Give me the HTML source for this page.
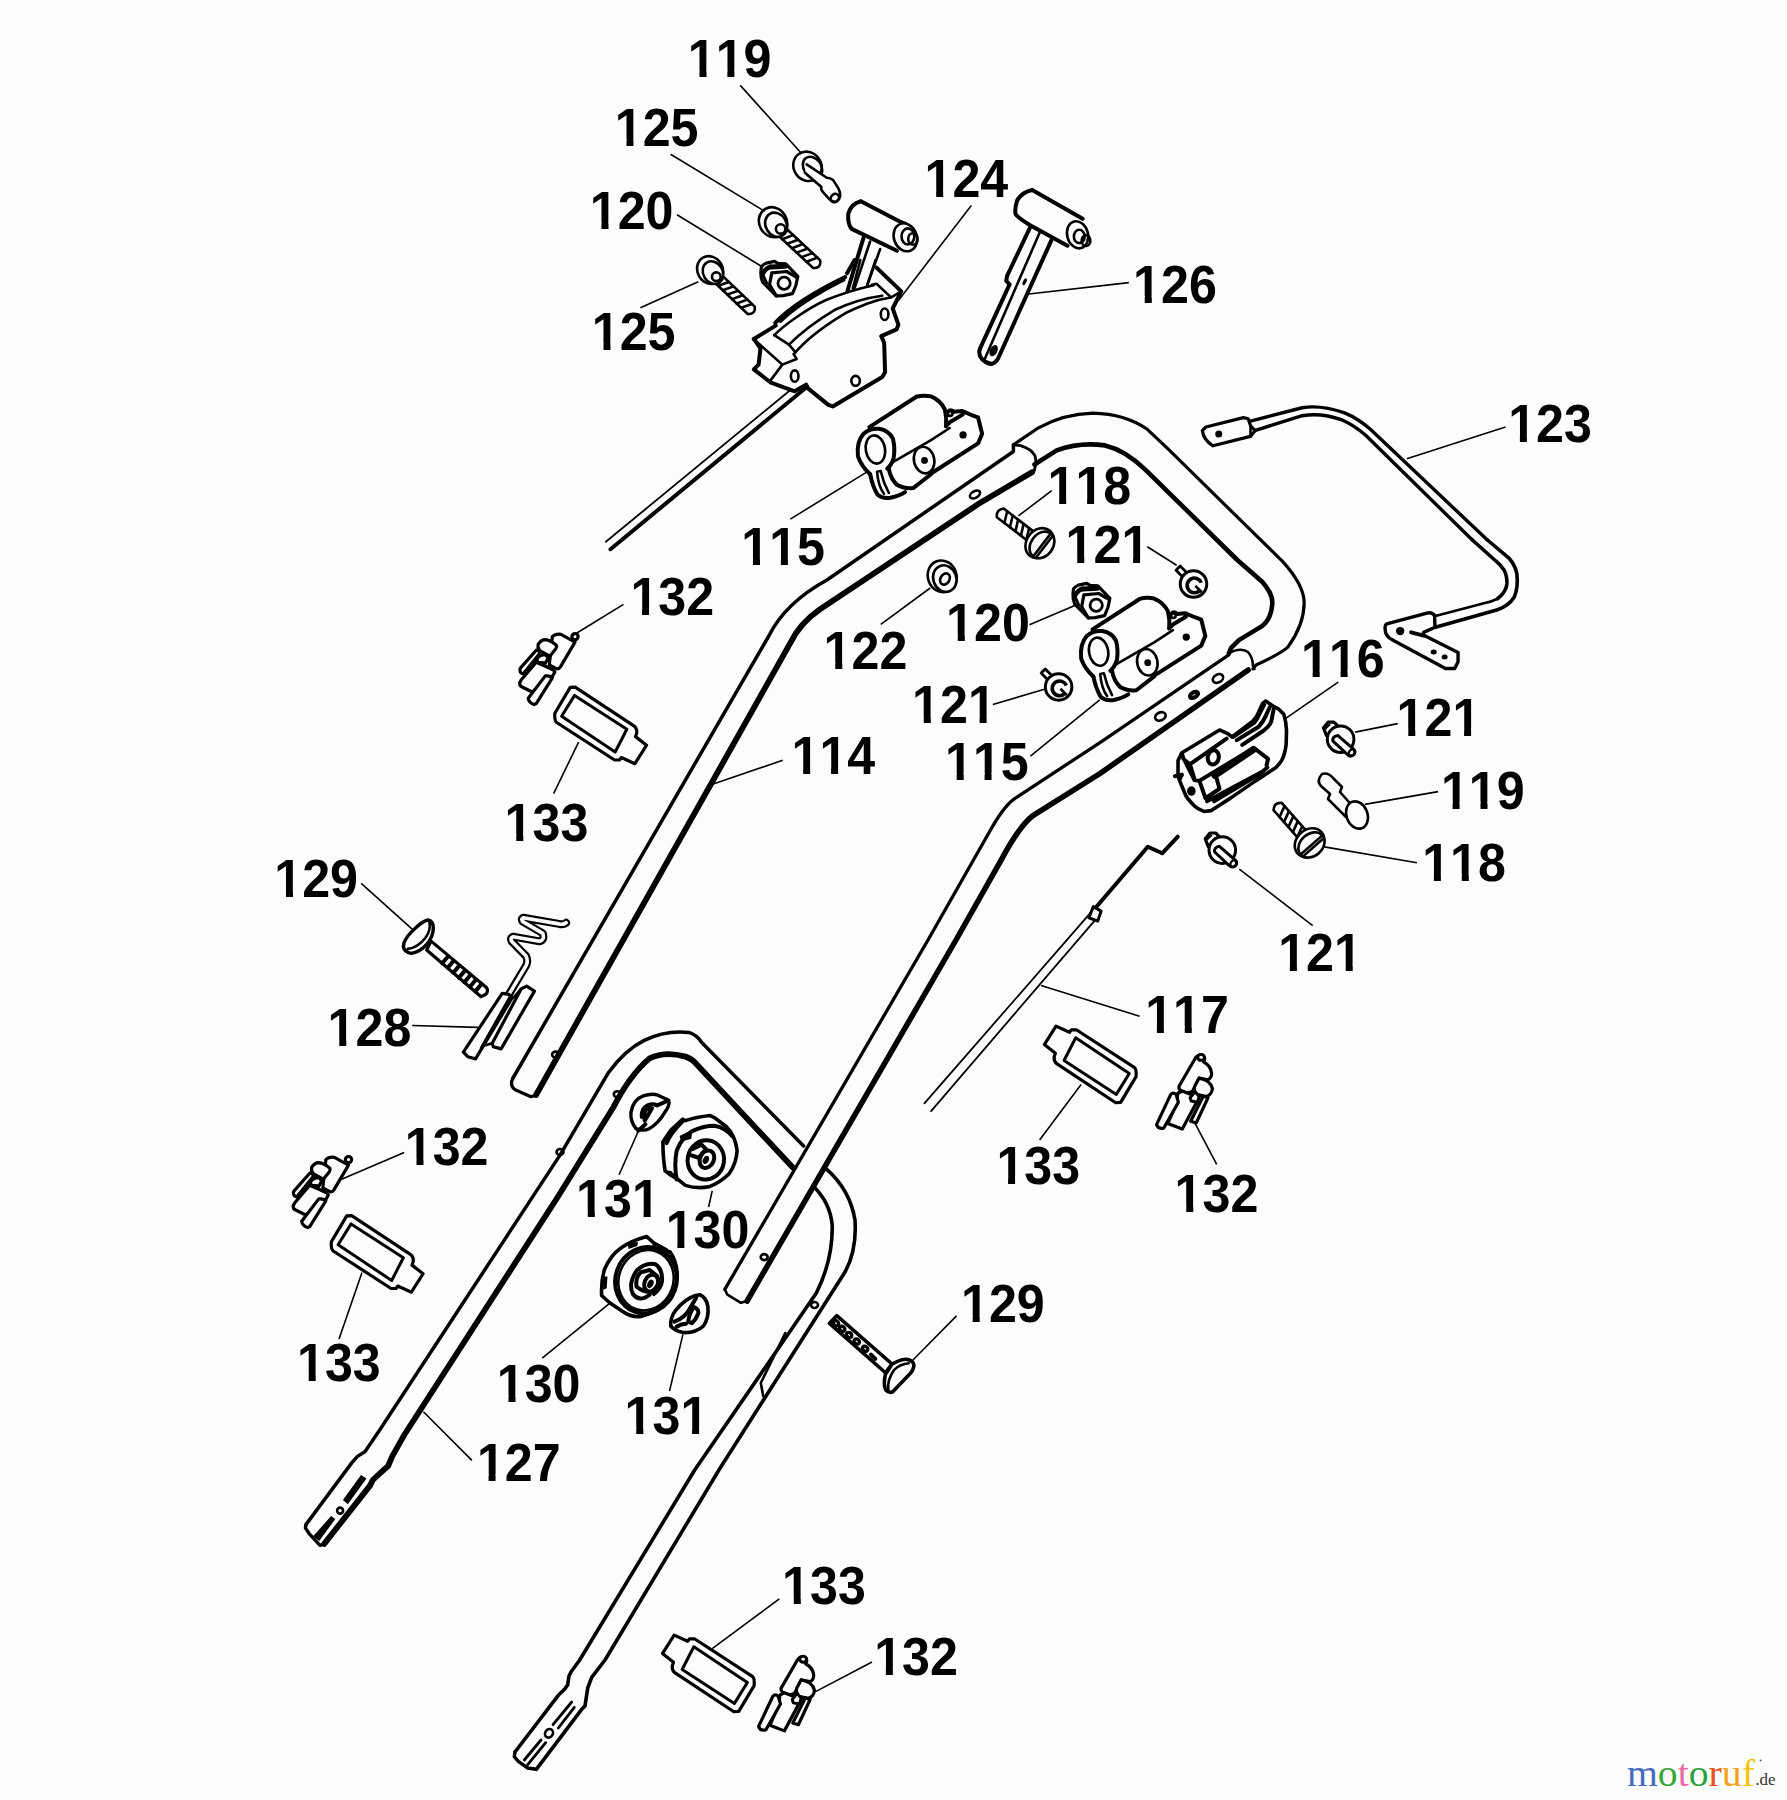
<!DOCTYPE html>
<html><head><meta charset="utf-8"><title>Parts diagram</title>
<style>
html,body{margin:0;padding:0;background:#fcfefc;}
svg{display:block;}
.lbl text{font-family:"Liberation Sans",sans-serif;font-weight:bold;font-size:53px;fill:#000;font-kerning:none;font-feature-settings:"kern" 0;}
.ld line{stroke:#000;stroke-width:1.6;}
path,ellipse,circle,polygon,polyline,line{vector-effect:non-scaling-stroke;}
.o{fill:none;stroke:#000;stroke-width:2.6;stroke-linejoin:round;stroke-linecap:round;}
.t{fill:none;stroke:#000;stroke-width:4;stroke-linejoin:round;stroke-linecap:round;}
.n{fill:none;stroke:#000;stroke-width:1.8;stroke-linejoin:round;stroke-linecap:round;}
.w{fill:#fcfefc;stroke:#000;stroke-width:2.6;stroke-linejoin:round;stroke-linecap:round;}
.f{fill:#000;stroke:none;}
.logo{font-family:"Liberation Serif",serif;}
</style></head>
<body>
<svg width="1787" height="1800" viewBox="0 0 1787 1800">
<rect width="1787" height="1800" fill="#fcfefc"/>
<g class="parts">
<path class="o" style="stroke-width:3.5" d="M513 1078 L768.5 636.5 Q785 603 826.9 580 L1013.4 451.5 L1013.4 444.8"/>
<path class="o" style="stroke-width:3.2" d="M513 1078 Q509 1086 515.6 1090 L531.1 1096.7 L536 1095"/>
<path class="t" style="stroke-width:5.8" d="M536 1095 L790.5 642.7 Q800 623 820.2 609.1 L978.2 504.1 L1032 472.2"/>
<path class="o" style="stroke-width:2.8" d="M1013.4 444.8 L1020.6 445.7 Q1031 449 1034.9 455.5 Q1037 462 1034 471.6"/>
<path class="o" style="stroke-width:3.2" d="M1013.4 444.8 L1038.5 427.8 Q1064 414 1093 413.2 Q1125 414 1147.3 429.3 L1167.5 448.4 L1282.3 561.2 Q1304 585 1304.2 602.8 Q1304 625 1287.9 647.1 Q1280 654 1256 665 L1252.9 668.9"/>
<path class="t" style="stroke-width:4.6" d="M1034.5 464.5 L1056.7 450.4 Q1079 442 1105 445.4 Q1125 450 1145.3 469.6 L1237.3 560 L1262.2 581.8 Q1273 594 1272.3 603.6 Q1271 622 1258.3 628.4 L1238.9 640.1 L1231.1 647.9 L1228.8 653.3"/>
<path class="o" d="M1228.8 653.3 Q1240 647 1248 652 Q1253 658 1253 666 L1254.4 669"/>
<path class="o" style="stroke-width:3.3" d="M1228.8 654.9 L1100 742.6 L1014.3 798.8 Q1003 807 989.5 831.8 L928 940 L724.8 1289.4"/>
<path class="t" style="stroke-width:5.5" d="M1248.2 670 L1100 773.5 L1032.1 816.1 Q1018 828 1000.7 860.9 L956 940 L747.1 1301"/>
<path class="o" d="M724.8 1289.4 L727.4 1294.7 L740.9 1302.8 L747.1 1301.0"/>
<path class="o" style="stroke-width:3.5" d="M306.1 1524.4 L351.9 1462.6 L357.5 1456.4 L365.1 1451.5 L379.7 1430 L560 1155.1 L608.4 1072.7 Q625 1050 644.2 1040.4 Q665 1030 688.9 1032.4 Q697 1035 701.5 1042.2 L803.6 1146.1"/>
<path class="t" style="stroke-width:5.8" d="M324.2 1543.9 L370 1485.6 L372.8 1480 L383.2 1470.3 L388.1 1466.1 L392.2 1456.4 L404.7 1434.2 L557.1 1198 L613.7 1106.7 Q630 1075 649.5 1058.4 Q665 1051 685.4 1056.6 Q692 1059 696.1 1063.7 L792.8 1167.6"/>
<path class="o" style="stroke-width:3.4" d="M306.1 1524.4 L305.4 1527.9 L309.6 1534.2 L320 1545.3 L324.2 1543.9"/>
<path class="o" style="stroke-width:3.6" d="M826.8 1169.4 Q850 1190 855 1220 Q857 1250 845 1272 L718.9 1470 L605 1660 L591.7 1677.3 L587.7 1688 L585 1706 L581.7 1709.3 L536.3 1769.3"/>
<path class="o" style="stroke-width:3.6" d="M814.3 1187.3 Q830 1203 832.2 1224.9 Q833 1260 816.2 1293.3 L694.7 1470 L579.7 1660 L571 1672 L569 1676 L567.7 1684.7 L565 1688.7 L558.3 1695.3 L515 1752"/>
<path class="o" style="stroke-width:3.4" d="M515 1752 L514.3 1756.7 L518.3 1761.3 L527.7 1768 L536.3 1769.3"/>
<path class="n" d="M605.9 541.7 L790.4 390.0"/>
<path class="t" d="M610.5 549.2 L807.1 386.7"/>
<path class="n" d="M924.4 1103.3 L1091.1 912.2"/>
<path class="n" d="M931.1 1111.1 L1100.0 914.4"/>
<path class="t" d="M1095.6 907.8 L1147.8 846.7 L1162.2 853.3 L1177.8 836.7"/>
<g transform="translate(750 260) scale(0.095132)"><path class="t" d="M40 830 L270 690 L265 660 C400 520 650 350 1000 180"/><path class="o" d="M320 650 C450 520 650 380 990 210"/><path class="t" d="M1330 80 L1590 330 L1500 510 L1560 680 L1540 730 L1380 800 L1410 870 L1420 1180 L1390 1230 L870 1540 L820 1520 L610 1350 L590 1310 L470 1380 L220 1290 L40 1150 L90 1100 L110 930 L40 830"/><path class="o" d="M255 790 C350 690 600 510 800 420 C900 380 1050 320 1300 265"/><path class="o" d="M460 990 C600 820 800 680 1000 560 C1150 490 1300 420 1480 395 L1590 330"/><path class="o" d="M410 890 C540 760 700 640 900 520 C1050 450 1200 400 1390 375"/><path class="o" d="M70 860 L340 1100 L220 1260 M340 1100 L490 1040 L460 990 M255 790 L410 890 L470 960"/><path class="o" d="M1280 260 L1330 250 L1480 390"/><path class="t" d="M1020 140 L1100 0"/><path class="o" d="M1080 300 L1160 0"/><path class="o" d="M1230 270 L1320 0"/><ellipse class="o" cx="1415" cy="570" rx="40" ry="60"/><ellipse class="o" cx="470" cy="1220" rx="40" ry="60"/><ellipse class="o" cx="1110" cy="1270" rx="45" ry="52"/></g>
<g transform="translate(740 150) scale(0.167879)"><path class="t" d="M735 525 L640 840"/><path class="o" d="M775 545 L680 830 M835 590 L760 800"/><path class="t" d="M720 305 L960 430 L985 440 M720 305 Q660 320 645 380 Q640 440 665 470 L935 600"/><ellipse class="w" cx="985" cy="520" rx="68" ry="85" transform="rotate(-20 985 520)"/><ellipse class="o" cx="1000" cy="515" rx="38" ry="48"/><ellipse class="o" cx="1030" cy="530" rx="28" ry="34"/></g>
<g transform="translate(950 150) scale(0.167879)"><path class="t" d="M490 238 L790 410 M490 238 Q430 250 400 300 Q385 350 390 380 Q400 400 480 450 L700 570"/><ellipse class="w" cx="760" cy="505" rx="62" ry="82" transform="rotate(-15 760 505)"/><ellipse class="o" cx="770" cy="515" rx="32" ry="40"/><ellipse class="o" cx="810" cy="540" rx="26" ry="32"/><path class="t" d="M480 455 L340 750 L335 780 L355 800 L180 1180 Q165 1215 190 1245 Q215 1270 245 1275 Q270 1270 285 1245 L605 535"/><path class="o" d="M535 490 L205 1250"/><ellipse class="f" cx="260" cy="1195" rx="22" ry="36" transform="rotate(25 260 1195)"/><ellipse class="f" cx="445" cy="785" rx="10" ry="22" transform="rotate(25 445 785)"/></g>
<g transform="translate(580 30) scale(0.167879)"><ellipse class="w" cx="1355" cy="812" rx="82" ry="90" transform="rotate(-35 1355 812)"/><ellipse class="o" cx="1385" cy="818" rx="52" ry="68" transform="rotate(-35 1385 818)"/><path class="w" d="M1350 800 L1470 880 Q1500 882 1512 900 L1540 945 Q1562 990 1535 1018 Q1508 1036 1488 1010 L1450 968 Q1432 950 1438 935 L1340 850"/><ellipse class="o" cx="1518" cy="1000" rx="26" ry="22" transform="rotate(-40 1518 1000)"/></g>
<g transform="translate(580 30) scale(0.167879)"><path class="w" d="M1159 1203 L1389 1418 Q1437 1420 1431 1372 L1201 1157"/><path class="o" d="M1176 1219 L1241 1195 M1205 1246 L1270 1222 M1234 1273 L1299 1249 M1263 1300 L1327 1275 M1291 1326 L1356 1302 M1320 1353 L1385 1329 M1349 1380 L1414 1356 "/><ellipse class="w" cx="1150" cy="1145" rx="82" ry="92" transform="rotate(-30 1150 1145)"/><ellipse class="w" cx="1168" cy="1160" rx="62" ry="75" transform="rotate(-30 1168 1160)"/><circle class="o" cx="1195" cy="1185" r="28"/></g>
<g transform="translate(580 30) scale(0.167879)"><path class="w" d="M779 1482 L999 1692 Q1046 1695 1041 1648 L821 1438"/><path class="o" d="M796 1498 L859 1475 M823 1524 L887 1501 M851 1550 L914 1527 M878 1576 L942 1554 M906 1603 L969 1580 M933 1629 L997 1606 M961 1655 L1024 1632 "/><ellipse class="w" cx="775" cy="1430" rx="75" ry="85" transform="rotate(-30 775 1430)"/><ellipse class="w" cx="792" cy="1445" rx="58" ry="70" transform="rotate(-30 792 1445)"/><circle class="o" cx="812" cy="1470" r="26"/></g>
<g transform="translate(845 385) scale(0.081142)"><path class="t" d="M300 520 L880 145 Q960 120 1060 140 Q1180 190 1230 300 Q1255 400 1245 510"/><path class="o" d="M590 950 L1060 680 L1290 530"/><path class="t" d="M1245 505 L1290 460 L1450 365 M1270 330 Q1300 290 1340 330 L1440 320 L1560 370 L1640 400 L1690 600 L1640 720 L1060 1090"/><circle class="o" cx="1295" cy="350" r="30"/><path class="t" d="M540 1030 Q560 1150 640 1230 Q720 1280 840 1270 L1060 1100"/><ellipse class="w" cx="975" cy="925" rx="125" ry="165" transform="rotate(-12 975 925)"/><circle class="f" cx="980" cy="930" r="42"/><circle class="f" cx="1455" cy="615" r="45"/><path class="t" d="M310 1100 Q200 1000 160 880 Q140 700 230 600 Q310 530 420 540 Q540 560 590 660 Q620 780 600 900 Q570 990 520 1030"/><path class="t" d="M310 1100 Q340 1250 400 1350 Q460 1405 560 1390 Q680 1360 740 1320"/><ellipse class="o" cx="375" cy="795" rx="118" ry="175" transform="rotate(-10 375 795)"/><path class="o" d="M395 1070 L440 1060 Q470 1200 540 1330 M395 1070 Q410 1250 480 1340"/></g>
<g transform="translate(1068.2 587.2) scale(0.081142)"><path class="t" d="M300 520 L880 145 Q960 120 1060 140 Q1180 190 1230 300 Q1255 400 1245 510"/><path class="o" d="M590 950 L1060 680 L1290 530"/><path class="t" d="M1245 505 L1290 460 L1450 365 M1270 330 Q1300 290 1340 330 L1440 320 L1560 370 L1640 400 L1690 600 L1640 720 L1060 1090"/><circle class="o" cx="1295" cy="350" r="30"/><path class="t" d="M540 1030 Q560 1150 640 1230 Q720 1280 840 1270 L1060 1100"/><ellipse class="w" cx="975" cy="925" rx="125" ry="165" transform="rotate(-12 975 925)"/><circle class="f" cx="980" cy="930" r="42"/><circle class="f" cx="1455" cy="615" r="45"/><path class="t" d="M310 1100 Q200 1000 160 880 Q140 700 230 600 Q310 530 420 540 Q540 560 590 660 Q620 780 600 900 Q570 990 520 1030"/><path class="t" d="M310 1100 Q340 1250 400 1350 Q460 1405 560 1390 Q680 1360 740 1320"/><ellipse class="o" cx="375" cy="795" rx="118" ry="175" transform="rotate(-10 375 795)"/><path class="o" d="M395 1070 L440 1060 Q470 1200 540 1330 M395 1070 Q410 1250 480 1340"/></g>
<g transform="translate(1193.5 584.0) scale(0.92)"><path class="w" d="M-19 -15 L-14.5 -19.5 L-6 -11 L-10.5 -6.5 Z" style="stroke-width:2.8"/><circle class="w" cx="0" cy="0" r="14.4" style="stroke-width:3"/><path d="M7 7 A8 8 0 1 1 8.5 -1.5" style="fill:none;stroke:#000;stroke-width:3.6"/><path d="M2 2 L9 9" style="fill:none;stroke:#000;stroke-width:2.6"/></g>
<g transform="translate(1058.6 686.9) scale(0.92)"><path class="w" d="M-19 -15 L-14.5 -19.5 L-6 -11 L-10.5 -6.5 Z" style="stroke-width:2.8"/><circle class="w" cx="0" cy="0" r="14.4" style="stroke-width:3"/><path d="M7 7 A8 8 0 1 1 8.5 -1.5" style="fill:none;stroke:#000;stroke-width:3.6"/><path d="M2 2 L9 9" style="fill:none;stroke:#000;stroke-width:2.6"/></g>
<g transform="translate(1340.6 739.2) scale(0.95)"><path class="w" d="M-18 -12 L-13 -18 L-7 -18 L-3.5 -14.5 L-3 -11.5 L-10.4 -3.7 L-14.8 -3.7 Z" style="stroke-width:3.2"/><path d="M-16 -11 L-11 -16 M-12 -8 L-7 -13" style="stroke:#000;stroke-width:2;fill:none"/><circle class="w" cx="0" cy="0" r="14" style="stroke-width:3"/><path class="w" d="M-3 -4 L13 10 Q17 14 13 17 Q10 19 7 16 L-8 2 Q-9 -3 -3 -4 Z" style="stroke-width:3"/><ellipse class="o" cx="12" cy="14" rx="3" ry="4" transform="rotate(40 12 14)" style="stroke-width:2.2"/></g>
<g transform="translate(1222.3 850.1) scale(0.95)"><path class="w" d="M-18 -12 L-13 -18 L-7 -18 L-3.5 -14.5 L-3 -11.5 L-10.4 -3.7 L-14.8 -3.7 Z" style="stroke-width:3.2"/><path d="M-16 -11 L-11 -16 M-12 -8 L-7 -13" style="stroke:#000;stroke-width:2;fill:none"/><circle class="w" cx="0" cy="0" r="14" style="stroke-width:3"/><path class="w" d="M-3 -4 L13 10 Q17 14 13 17 Q10 19 7 16 L-8 2 Q-9 -3 -3 -4 Z" style="stroke-width:3"/><ellipse class="o" cx="12" cy="14" rx="3" ry="4" transform="rotate(40 12 14)" style="stroke-width:2.2"/></g>
<path class="w" d="M1036.6 533.9 L1003.7 508.5 Q995.9 509.5 996.9 517.3 L1029.9 542.6"/><path class="o" d="M1029.1 528.1 L1026.4 539.9 M1023.6 523.9 L1020.9 535.7 M1018.1 519.7 L1015.4 531.4 M1012.7 515.5 L1009.9 527.2 M1007.2 511.2 L1004.4 523.0 "/><g transform="translate(1039.6 543.1) rotate(37.5)"><ellipse class="w" cx="0" cy="0" rx="13" ry="16"/><ellipse class="w" cx="3" cy="0" rx="11" ry="14.5"/><path class="o" d="M3 -13 L3 13 M6 -12 L6 12"/></g>
<path class="w" d="M1308.3 833.1 L1281.7 802.9 Q1274.0 802.4 1273.5 810.1 L1300.1 840.3"/><path class="o" d="M1302.2 826.2 L1297.3 837.2 M1297.8 821.1 L1292.9 832.1 M1293.4 816.1 L1288.4 827.1 M1288.9 811.1 L1284.0 822.1 M1284.5 806.0 L1279.6 817.0 "/><g transform="translate(1309.5 842.7) rotate(48.6)"><ellipse class="w" cx="0" cy="0" rx="13" ry="16"/><ellipse class="w" cx="3" cy="0" rx="11" ry="14.5"/><path class="o" d="M3 -13 L3 13 M6 -12 L6 12"/></g>
<path class="w" d="M1322 774 Q1316 781 1321 786 L1330 794 L1328 799 L1346 817 L1356 810 L1340 792 L1342 787 L1333 778 Q1328 772 1322 774 Z"/><ellipse class="w" cx="1357" cy="815" rx="10.5" ry="14" transform="rotate(-20 1357 815)"/>
<ellipse class="w" cx="942.2" cy="576.3" rx="14.3" ry="16" transform="rotate(-20 942.2 576.3)"/><ellipse class="w" cx="944.8" cy="578.6" rx="11.5" ry="13.5" transform="rotate(-20 944.8 578.6)"/><ellipse class="o" cx="945" cy="579" rx="4.5" ry="6" transform="rotate(30 945 579)"/>
<ellipse class="o" cx="975" cy="494.5" rx="5.5" ry="3.2" transform="rotate(-30 975 494.5)"/>
<ellipse class="o" cx="1160.4" cy="716.4" rx="5.5" ry="4" transform="rotate(-25 1160.4 716.4)"/><ellipse class="t" cx="1194" cy="694.9" rx="4.5" ry="2.5" transform="rotate(-30 1194 694.9)"/><ellipse class="o" cx="1218" cy="678.5" rx="5.5" ry="4" transform="rotate(-30 1218 678.5)"/>
<g transform="translate(1160 690) scale(0.078344)"><path class="w" d="M230 900 L280 800 L760 510 L870 560 L920 600 L1180 400 Q1230 360 1260 280 L1310 170 L1350 140 L1450 210 L1510 240 L1580 310 Q1610 400 1615 520 L1610 700 Q1590 850 1540 920 L1480 990 L1220 1160 L900 1380 L650 1540 L560 1550 Q480 1520 440 1480 Q360 1400 330 1350 L260 1180 L230 1100 Z" style="stroke-width:3.6"/><path class="t" d="M280 810 L300 880 L380 950 L850 620 M310 890 L440 1150 L500 1160 L1200 740 L1380 880 L1360 960 M380 940 L440 1140"/><path class="t" style="stroke-width:7" d="M700 1090 L1190 760"/><path class="t" d="M510 1180 L580 1380 L760 1260 L720 1120 M600 1420 L1310 1040 L1370 990 M690 1420 L1310 1050"/><ellipse class="t" cx="680" cy="860" rx="70" ry="92" transform="rotate(10 680 860)"/><ellipse class="f" cx="400" cy="1290" rx="55" ry="60"/><path class="t" d="M930 600 L1200 420 Q1250 360 1270 300 L1330 190 M980 640 L1260 470 Q1320 400 1350 330 L1400 220 M1050 700 L1320 520 Q1400 460 1420 400 L1450 250"/><path class="t" d="M190 1100 L280 1080 L250 1140"/></g>
<g transform="translate(1180 380) scale(0.235031)"><path class="t" style="stroke-width:3.4" d="M300 175 L520 118 Q600 105 700 140 Q760 165 810 210 L1307.9 680.8"/><path class="t" style="stroke-width:3.4" d="M318 215 L520 152 Q600 138 690 170 Q745 195 790 235 L1243.7 680.8"/><path class="w" d="M95 215 Q100 255 140 280 L300 240 L320 215 L300 195 L290 165 L270 160 L110 200 Z" style="stroke-width:3.2"/><circle class="f" cx="165" cy="230" r="15"/><path class="o" d="M300 195 L300 240"/></g>
<g transform="translate(1380 540) scale(0.083940)"><path class="t" style="stroke-width:3.6" d="M1100 0 L1380 250 Q1440 300 1480 360 Q1515 430 1512 520 Q1505 620 1400 700"/><path class="o" d="M1400 700 Q1320 740 1250 750 L660 905"/><path class="t" style="stroke-width:3.6" d="M1280 0 L1540 220 Q1610 300 1630 400 Q1650 560 1600 680 Q1530 790 1400 830 L660 1040"/><path class="w" d="M80 1000 L560 870 Q620 855 650 900 L655 1040 L520 1100 L510 1130 L930 1340 L930 1450 L890 1530 L780 1530 L150 1190 Q60 1150 60 1050 Q60 1010 80 1000 Z" style="stroke-width:3.4"/><path class="t" d="M370 1100 L520 1140"/><circle class="f" cx="240" cy="1085" r="50"/><ellipse class="f" cx="640" cy="1335" rx="36" ry="30"/><ellipse class="f" cx="770" cy="1395" rx="36" ry="30"/></g>
<g transform="translate(900 830) scale(0.222222)"><path class="w" d="M850 395 L870 345 L905 365 L890 410 Z" style="stroke-width:3"/></g>
<g transform="translate(0 0)"><g transform="translate(545 680) scale(0.061556)"><path class="w" d="M410 120 L490 115 L1450 750 Q1500 790 1490 860 L1470 920 L1650 1060 L1460 1360 L1240 1260 L1210 1300 L1130 1300 L190 690 Q150 660 160 540 Z" style="stroke-width:3.2"/><path class="o" d="M480 250 L1330 800 L1140 1170 L270 590 Z" style="stroke-width:3"/></g></g>
<g transform="translate(-223.5 528.5)"><g transform="translate(545 680) scale(0.061556)"><path class="w" d="M410 120 L490 115 L1450 750 Q1500 790 1490 860 L1470 920 L1650 1060 L1460 1360 L1240 1260 L1210 1300 L1130 1300 L190 690 Q150 660 160 540 Z" style="stroke-width:3.2"/><path class="o" d="M480 250 L1330 800 L1140 1170 L270 590 Z" style="stroke-width:3"/></g></g>
<g transform="translate(1089.4 1064.5) rotate(180) translate(-601.5 -725.3)"><g transform="translate(545 680) scale(0.061556)"><path class="w" d="M410 120 L490 115 L1450 750 Q1500 790 1490 860 L1470 920 L1650 1060 L1460 1360 L1240 1260 L1210 1300 L1130 1300 L190 690 Q150 660 160 540 Z" style="stroke-width:3.2"/><path class="o" d="M480 250 L1330 800 L1140 1170 L270 590 Z" style="stroke-width:3"/></g></g>
<g transform="translate(707.5 1673.5) rotate(180) translate(-601.5 -725.3)"><g transform="translate(545 680) scale(0.061556)"><path class="w" d="M410 120 L490 115 L1450 750 Q1500 790 1490 860 L1470 920 L1650 1060 L1460 1360 L1240 1260 L1210 1300 L1130 1300 L190 690 Q150 660 160 540 Z" style="stroke-width:3.2"/><path class="o" d="M480 250 L1330 800 L1140 1170 L270 590 Z" style="stroke-width:3"/></g></g>
<g transform="translate(0 0)"><g transform="translate(505 620) scale(0.050364)"><path class="w" d="M940 330 Q1000 270 1110 285 L1300 390 L1390 440 L1100 930 Q1070 975 1030 970 L880 890 Z" style="stroke-width:3.2"/><circle class="w" cx="1390" cy="330" r="62" style="stroke-width:3.2"/><path class="w" d="M300 1010 Q300 1060 360 1070 L700 650 Q680 600 620 600 L310 950 Q290 975 300 1010 Z" style="stroke-width:3.2"/><path class="w" d="M290 1250 Q290 1310 340 1330 L540 1430 L940 1120 L990 1030 L960 990 L620 840 L320 1190 Z" style="stroke-width:3.2"/><path class="w" d="M660 480 Q720 390 800 390 Q900 400 1020 500 Q1030 540 1010 570 L890 720 L690 610 Q640 560 660 480 Z" style="stroke-width:3.2"/><path class="w" d="M640 760 Q700 690 800 690 Q850 720 850 770 L800 860 L640 820 Z" style="stroke-width:3.2"/><path class="w" d="M460 1550 Q470 1640 580 1680 L620 1660 L940 1150 Q900 1100 800 1110 L480 1530 Z" style="stroke-width:3.2"/><path class="o" d="M780 900 L960 1000"/></g></g>
<g transform="translate(-226.5 523)"><g transform="translate(505 620) scale(0.050364)"><path class="w" d="M940 330 Q1000 270 1110 285 L1300 390 L1390 440 L1100 930 Q1070 975 1030 970 L880 890 Z" style="stroke-width:3.2"/><circle class="w" cx="1390" cy="330" r="62" style="stroke-width:3.2"/><path class="w" d="M300 1010 Q300 1060 360 1070 L700 650 Q680 600 620 600 L310 950 Q290 975 300 1010 Z" style="stroke-width:3.2"/><path class="w" d="M290 1250 Q290 1310 340 1330 L540 1430 L940 1120 L990 1030 L960 990 L620 840 L320 1190 Z" style="stroke-width:3.2"/><path class="w" d="M660 480 Q720 390 800 390 Q900 400 1020 500 Q1030 540 1010 570 L890 720 L690 610 Q640 560 660 480 Z" style="stroke-width:3.2"/><path class="w" d="M640 760 Q700 690 800 690 Q850 720 850 770 L800 860 L640 820 Z" style="stroke-width:3.2"/><path class="w" d="M460 1550 Q470 1640 580 1680 L620 1660 L940 1150 Q900 1100 800 1110 L480 1530 Z" style="stroke-width:3.2"/><path class="o" d="M780 900 L960 1000"/></g></g>
<g transform="translate(0 0)"><g transform="translate(640 1610) scale(0.111919)"><path class="w" d="M1260 700 L1410 440 Q1440 405 1480 425 Q1500 450 1480 480 Q1545 515 1552 580 Q1552 625 1520 640 L1440 625 L1380 745 Q1330 765 1290 745 Q1255 725 1260 700 Z" style="stroke-width:3.2"/><ellipse class="w" cx="1458" cy="440" rx="30" ry="26" style="stroke-width:3"/><path class="w" d="M1160 1030 L1290 1080 L1440 800 L1290 740 L1250 760 L1240 850 Z" style="stroke-width:3.2"/><path class="w" d="M1060 1040 Q1075 1085 1125 1070 L1255 840 L1235 770 Q1205 745 1185 775 Z" style="stroke-width:3.2"/><path class="w" d="M1400 700 L1440 625 Q1540 640 1560 720 Q1550 780 1500 790 L1420 770 Q1390 740 1400 700 Z" style="stroke-width:3.2"/><path class="w" d="M1360 800 L1405 745 L1440 790 L1425 840 L1370 830 Z" style="stroke-width:3"/><path class="w" d="M1365 1010 L1415 1025 L1520 800 L1478 785 Z" style="stroke-width:3.2"/></g></g>
<g transform="translate(397.9 -601.8)"><g transform="translate(640 1610) scale(0.111919)"><path class="w" d="M1260 700 L1410 440 Q1440 405 1480 425 Q1500 450 1480 480 Q1545 515 1552 580 Q1552 625 1520 640 L1440 625 L1380 745 Q1330 765 1290 745 Q1255 725 1260 700 Z" style="stroke-width:3.2"/><ellipse class="w" cx="1458" cy="440" rx="30" ry="26" style="stroke-width:3"/><path class="w" d="M1160 1030 L1290 1080 L1440 800 L1290 740 L1250 760 L1240 850 Z" style="stroke-width:3.2"/><path class="w" d="M1060 1040 Q1075 1085 1125 1070 L1255 840 L1235 770 Q1205 745 1185 775 Z" style="stroke-width:3.2"/><path class="w" d="M1400 700 L1440 625 Q1540 640 1560 720 Q1550 780 1500 790 L1420 770 Q1390 740 1400 700 Z" style="stroke-width:3.2"/><path class="w" d="M1360 800 L1405 745 L1440 790 L1425 840 L1370 830 Z" style="stroke-width:3"/><path class="w" d="M1365 1010 L1415 1025 L1520 800 L1478 785 Z" style="stroke-width:3.2"/></g></g>
<g transform="translate(620 1085) scale(0.072748)"><path class="w" d="M220 600 Q140 500 150 380 Q180 200 320 150 Q440 110 520 140 L670 210 Q690 280 620 370 Q520 540 400 600 Q320 640 220 600 Z" style="stroke-width:3.4"/><path class="t" d="M300 440 Q290 330 380 280 Q450 250 510 280 L650 220"/><path class="t" d="M340 490 L440 320 Q390 300 350 350 Q320 400 340 490 M350 540 L250 630"/></g>
<g transform="translate(620 1085) scale(0.072748)"><path class="w" d="M590 780 L700 620 L860 470 L900 490 Q1050 440 1240 420 L1300 450 L1460 570 Q1580 680 1610 900 Q1600 1080 1500 1220 Q1380 1340 1220 1400 Q1050 1430 900 1380 L800 1300 L700 1240 L620 1180 Q590 1000 590 780 Z" style="stroke-width:3.6"/><path class="t" d="M640 800 Q680 680 860 500"/><path class="t" d="M780 1300 Q740 1100 780 900 Q850 720 1000 630 Q1150 560 1300 560 Q1450 590 1540 700"/><path d="M820 700 L920 650 L990 660 L980 740 L840 780 Z" class="f"/><path d="M620 1180 L700 1180 L760 1240 L720 1260 Z" class="f"/><ellipse class="t" cx="1180" cy="1030" rx="250" ry="270" transform="rotate(10 1180 1030)"/><ellipse class="t" cx="1195" cy="1020" rx="95" ry="125" transform="rotate(25 1195 1020)"/><path class="t" d="M1000 880 L1120 820 L1180 880 L1080 1000 L960 960"/><ellipse class="f" cx="1180" cy="1030" rx="40" ry="58" transform="rotate(25 1180 1030)"/></g>
<g transform="translate(590 1230) scale(0.072748)"><path class="w" d="M160 900 Q150 700 200 540 Q280 350 420 250 Q560 150 780 90 L880 180 L1100 300 Q1190 420 1200 620 Q1190 800 1100 950 Q950 1130 700 1190 Q560 1200 450 1120 L270 1000 Z" style="stroke-width:3.6"/><ellipse class="t" cx="770" cy="690" rx="420" ry="460" transform="rotate(20 770 690)"/><ellipse class="o" cx="770" cy="690" rx="375" ry="420" transform="rotate(20 770 690)"/><path class="t" d="M820 890 Q680 1000 590 880 Q520 740 640 560 Q760 440 900 470 Q1000 540 990 700 Q980 800 880 880"/><path class="t" d="M640 780 Q620 650 700 580 L820 550 L920 630 L950 720 Q920 820 840 850 Q740 860 640 780"/><ellipse class="t" cx="840" cy="730" rx="90" ry="120" transform="rotate(25 840 730)"/><ellipse class="f" cx="830" cy="740" rx="40" ry="62" transform="rotate(25 830 740)"/><path class="f" d="M520 190 L660 160 L650 220 L530 260 Z"/><path class="f" d="M180 640 L240 640 L230 800 L180 820 Z"/><path class="o" d="M880 180 L880 230 L700 260"/></g>
<g transform="translate(590 1230) scale(0.072748)"><path class="w" d="M1110 1320 Q1100 1200 1180 1100 Q1300 950 1450 900 L1510 890 Q1600 930 1620 1050 Q1640 1200 1560 1320 Q1450 1420 1280 1410 Q1150 1380 1110 1320 Z" style="stroke-width:3.6"/><path class="t" d="M1160 1260 Q1300 1210 1360 1100 L1460 930"/><path class="t" d="M1350 1260 Q1360 1150 1430 1060 Q1490 1080 1490 1140 Q1460 1230 1400 1280 Z"/><path class="t" d="M1190 1330 Q1250 1290 1320 1290"/></g>
<ellipse class="o" cx="764.2" cy="1257.1" rx="3.5" ry="3" /><ellipse class="o" cx="617.3" cy="1094.2" rx="3.5" ry="3" /><ellipse class="o" cx="560" cy="1152" rx="3.5" ry="3" /><ellipse class="o" cx="814.5" cy="1305" rx="3.5" ry="3" />
<path class="o" d="M785.3 1333 L760.8 1383 L763.2 1396"/>
<g transform="translate(390 900) scale(0.111111)"><path class="w" d="M370 370 L870 790 Q890 820 860 850 L820 870 L330 450 Z" style="stroke-width:3.2"/><path class="t" d="M520 510 L470 570 M570 550 L520 610 M620 595 L570 655 M670 640 L620 700 M720 680 L670 740 M770 720 L720 780 M820 760 L770 820"/><path class="w" d="M120 420 Q130 470 190 480 Q270 470 330 400 Q390 330 390 250 Q390 190 340 180 Q290 190 200 280 Q120 360 120 420 Z" style="stroke-width:3.4"/><path class="o" d="M160 440 Q250 430 320 340 Q370 270 355 200"/></g>
<g transform="translate(390 900) scale(0.111111)"><path d="M1585 205 Q1560 225 1520 215 L1200 160 Q1175 170 1195 195 L1375 300 Q1395 360 1345 372 L1110 330 Q1078 340 1095 372 L1225 505 Q1245 550 1225 590 L1070 850" style="fill:none;stroke:#000;stroke-width:8.0;stroke-linejoin:round;stroke-linecap:round;vector-effect:non-scaling-stroke"/><path d="M1585 205 Q1560 225 1520 215 L1200 160 Q1175 170 1195 195 L1375 300 Q1395 360 1345 372 L1110 330 Q1078 340 1095 372 L1225 505 Q1245 550 1225 590 L1070 850" style="fill:none;stroke:#fcfefc;stroke-width:3.6;stroke-linejoin:round;stroke-linecap:round;vector-effect:non-scaling-stroke"/><path class="w" d="M660 1370 L1010 840 L1070 850 L1100 880 L770 1430 L700 1410 Z" style="stroke-width:3.2"/><path class="w" d="M920 1290 L1180 800 L1230 775 L1300 820 L1000 1340 L930 1320 Z" style="stroke-width:3.2"/><path class="o" d="M820 1330 L1080 870 M850 1310 L920 1290 M1110 880 L1180 800"/></g>
<g transform="translate(820 1300) scale(0.072748)"><path class="w" d="M230 215 L990 880 L900 1000 L130 320 Z" style="stroke-width:3.6"/><g class="o" style="stroke-width:3.6"><ellipse class="o" cx="220" cy="320" rx="40" ry="32" transform="rotate(40 220 320)" style="stroke-width:3.4"/><ellipse class="o" cx="305" cy="395" rx="40" ry="32" transform="rotate(40 305 395)" style="stroke-width:3.4"/><ellipse class="o" cx="400" cy="480" rx="40" ry="32" transform="rotate(40 400 480)" style="stroke-width:3.4"/><ellipse class="o" cx="505" cy="570" rx="40" ry="32" transform="rotate(40 505 570)" style="stroke-width:3.4"/><ellipse class="o" cx="620" cy="670" rx="40" ry="32" transform="rotate(40 620 670)" style="stroke-width:3.4"/></g><path class="t" d="M700 750 L760 810"/><path class="w" d="M900 1020 Q870 1150 900 1230 Q950 1290 1000 1260 L1250 1000 Q1310 920 1280 860 Q1230 800 1130 820 Q1040 850 990 880 Z" style="stroke-width:3.6"/><path class="o" d="M940 1240 Q920 1100 1020 960 Q1100 880 1220 870"/></g>
<path class="f" d="M361 1475.1 L366.5 1478.6 L347.8 1504.3 L342.9 1500.1 Z"/><circle class="o" cx="340.1" cy="1510.6" r="3"/><path class="f" d="M331.1 1516.1 L335.3 1518.9 L319.3 1541.1 L313.1 1536.3 Z"/>
<path class="o" style="stroke-width:2.8" d="M553 1724.7 L571.7 1702 M558.3 1728 L574.3 1707.3 M524.3 1760 L541 1740 M527.7 1764.7 L545.7 1742.7"/>
<ellipse class="o" cx="549" cy="1733.3" rx="3.8" ry="4.5" transform="rotate(30 549 1733.3)"/>
<ellipse class="o" cx="555.6" cy="1054.6" rx="3.5" ry="3"/>
<g transform="translate(0 0)"><g transform="translate(755 255) scale(0.027980)"><path class="w" d="M230 420 Q300 330 400 290 L700 230 L820 300 L1100 320 L1530 760 L1460 1090 L1340 1380 L1000 1450 L760 1460 L270 970 Q200 800 210 600 Z" style="stroke-width:3.2"/><path class="o" d="M600 640 L1130 590 L1480 790 M600 640 L520 1060 L760 1460" style="stroke-width:3.2"/><path class="o" d="M560 430 L1080 400" style="stroke-width:5"/><path class="o" d="M300 640 Q380 470 560 420" style="stroke-width:4.5"/><path class="o" d="M280 700 L420 1010" style="stroke-width:3"/><circle class="o" cx="1040" cy="1010" r="220" style="stroke-width:2.8"/></g></g>
<g transform="translate(312.1 322)"><g transform="translate(755 255) scale(0.027980)"><path class="w" d="M230 420 Q300 330 400 290 L700 230 L820 300 L1100 320 L1530 760 L1460 1090 L1340 1380 L1000 1450 L760 1460 L270 970 Q200 800 210 600 Z" style="stroke-width:3.2"/><path class="o" d="M600 640 L1130 590 L1480 790 M600 640 L520 1060 L760 1460" style="stroke-width:3.2"/><path class="o" d="M560 430 L1080 400" style="stroke-width:5"/><path class="o" d="M300 640 Q380 470 560 420" style="stroke-width:4.5"/><path class="o" d="M280 700 L420 1010" style="stroke-width:3"/><circle class="o" cx="1040" cy="1010" r="220" style="stroke-width:2.8"/></g></g>
</g>
<g class="ld">
<line x1="740.3" y1="85.4" x2="800.7" y2="152.5"/>
<line x1="670.6" y1="154.2" x2="764.7" y2="211.3"/>
<line x1="677" y1="214.7" x2="762.1" y2="266.7"/>
<line x1="640.4" y1="307.8" x2="698.3" y2="281.8"/>
<line x1="971.3" y1="205.4" x2="898.6" y2="300.2"/>
<line x1="1128.8" y1="282.6" x2="1028.9" y2="294"/>
<line x1="1505.5" y1="427" x2="1406.8" y2="458.7"/>
<line x1="1051.7" y1="490.7" x2="1018.4" y2="515.9"/>
<line x1="790.3" y1="519.1" x2="866.7" y2="472.1"/>
<line x1="1147.3" y1="546.7" x2="1176.6" y2="565.3"/>
<line x1="623.5" y1="604.4" x2="572" y2="636"/>
<line x1="880.8" y1="624.4" x2="930.2" y2="588"/>
<line x1="1029.5" y1="624.7" x2="1074.8" y2="605.6"/>
<line x1="1338.2" y1="682.1" x2="1286.1" y2="718.2"/>
<line x1="992.8" y1="704.5" x2="1044.5" y2="689.3"/>
<line x1="1397.7" y1="723.6" x2="1355.2" y2="732.1"/>
<line x1="782.8" y1="760.3" x2="713.3" y2="783.9"/>
<line x1="1030.4" y1="756.2" x2="1099.7" y2="699.8"/>
<line x1="1438.1" y1="791.6" x2="1364.8" y2="804.4"/>
<line x1="553.6" y1="793.6" x2="578.6" y2="742.2"/>
<line x1="1416.9" y1="862.8" x2="1324.4" y2="846.9"/>
<line x1="361.2" y1="883.4" x2="414.1" y2="930.9"/>
<line x1="1312.7" y1="925.6" x2="1239.3" y2="869.2"/>
<line x1="1139.6" y1="1016.2" x2="1041.1" y2="985.6"/>
<line x1="412.2" y1="1025.5" x2="477.8" y2="1027.4"/>
<line x1="404.2" y1="1152.4" x2="341.6" y2="1179.2"/>
<line x1="1039.6" y1="1140" x2="1081.1" y2="1084.4"/>
<line x1="619.1" y1="1174.8" x2="638.8" y2="1130"/>
<line x1="1216.7" y1="1164.4" x2="1194.4" y2="1122.2"/>
<line x1="708.6" y1="1207" x2="712.2" y2="1190.9"/>
<line x1="956.5" y1="1315.9" x2="912.7" y2="1360.2"/>
<line x1="339" y1="1339" x2="362" y2="1272.5"/>
<line x1="542.2" y1="1358.1" x2="609.9" y2="1303.2"/>
<line x1="669.5" y1="1391.1" x2="682.9" y2="1334.4"/>
<line x1="471.9" y1="1460.4" x2="423.4" y2="1411.8"/>
<line x1="779.3" y1="1598.9" x2="712.2" y2="1648.6"/>
<line x1="872" y1="1662" x2="815.6" y2="1691.6"/>
</g>
<g class="lbl">
<g transform="translate(687.8 77.0) scale(0.947 1)"><text>119</text><rect x="2.38" y="-6.62" width="9.94" height="7.95" fill="#fcfefc"/><rect x="19.74" y="-6.62" width="9.14" height="7.95" fill="#fcfefc"/><rect x="31.85" y="-6.62" width="9.94" height="7.95" fill="#fcfefc"/><rect x="49.21" y="-6.62" width="9.14" height="7.95" fill="#fcfefc"/></g>
<g transform="translate(614.8 145.5) scale(0.947 1)"><text>125</text><rect x="2.38" y="-6.62" width="9.94" height="7.95" fill="#fcfefc"/><rect x="19.74" y="-6.62" width="9.14" height="7.95" fill="#fcfefc"/></g>
<g transform="translate(589.8 229.0) scale(0.947 1)"><text>120</text><rect x="2.38" y="-6.62" width="9.94" height="7.95" fill="#fcfefc"/><rect x="19.74" y="-6.62" width="9.14" height="7.95" fill="#fcfefc"/></g>
<g transform="translate(591.8 350.0) scale(0.947 1)"><text>125</text><rect x="2.38" y="-6.62" width="9.94" height="7.95" fill="#fcfefc"/><rect x="19.74" y="-6.62" width="9.14" height="7.95" fill="#fcfefc"/></g>
<g transform="translate(924.5 196.7) scale(0.947 1)"><text>124</text><rect x="2.38" y="-6.62" width="9.94" height="7.95" fill="#fcfefc"/><rect x="19.74" y="-6.62" width="9.14" height="7.95" fill="#fcfefc"/></g>
<g transform="translate(1133.1 302.8) scale(0.947 1)"><text>126</text><rect x="2.38" y="-6.62" width="9.94" height="7.95" fill="#fcfefc"/><rect x="19.74" y="-6.62" width="9.14" height="7.95" fill="#fcfefc"/></g>
<g transform="translate(1508.2 441.6) scale(0.947 1)"><text>123</text><rect x="2.38" y="-6.62" width="9.94" height="7.95" fill="#fcfefc"/><rect x="19.74" y="-6.62" width="9.14" height="7.95" fill="#fcfefc"/></g>
<g transform="translate(1047.5 503.8) scale(0.947 1)"><text>118</text><rect x="2.38" y="-6.62" width="9.94" height="7.95" fill="#fcfefc"/><rect x="19.74" y="-6.62" width="9.14" height="7.95" fill="#fcfefc"/><rect x="31.85" y="-6.62" width="9.94" height="7.95" fill="#fcfefc"/><rect x="49.21" y="-6.62" width="9.14" height="7.95" fill="#fcfefc"/></g>
<g transform="translate(741.3 564.5) scale(0.947 1)"><text>115</text><rect x="2.38" y="-6.62" width="9.94" height="7.95" fill="#fcfefc"/><rect x="19.74" y="-6.62" width="9.14" height="7.95" fill="#fcfefc"/><rect x="31.85" y="-6.62" width="9.94" height="7.95" fill="#fcfefc"/><rect x="49.21" y="-6.62" width="9.14" height="7.95" fill="#fcfefc"/></g>
<g transform="translate(1065.6 563.2) scale(0.947 1)"><text>121</text><rect x="2.38" y="-6.62" width="9.94" height="7.95" fill="#fcfefc"/><rect x="19.74" y="-6.62" width="9.14" height="7.95" fill="#fcfefc"/><rect x="61.32" y="-6.62" width="9.94" height="7.95" fill="#fcfefc"/><rect x="78.68" y="-6.62" width="9.14" height="7.95" fill="#fcfefc"/></g>
<g transform="translate(630.4 615.0) scale(0.947 1)"><text>132</text><rect x="2.38" y="-6.62" width="9.94" height="7.95" fill="#fcfefc"/><rect x="19.74" y="-6.62" width="9.14" height="7.95" fill="#fcfefc"/></g>
<g transform="translate(823.6 668.6) scale(0.947 1)"><text>122</text><rect x="2.38" y="-6.62" width="9.94" height="7.95" fill="#fcfefc"/><rect x="19.74" y="-6.62" width="9.14" height="7.95" fill="#fcfefc"/></g>
<g transform="translate(946.1 641.1) scale(0.947 1)"><text>120</text><rect x="2.38" y="-6.62" width="9.94" height="7.95" fill="#fcfefc"/><rect x="19.74" y="-6.62" width="9.14" height="7.95" fill="#fcfefc"/></g>
<g transform="translate(1301.0 676.8) scale(0.947 1)"><text>116</text><rect x="2.38" y="-6.62" width="9.94" height="7.95" fill="#fcfefc"/><rect x="19.74" y="-6.62" width="9.14" height="7.95" fill="#fcfefc"/><rect x="31.85" y="-6.62" width="9.94" height="7.95" fill="#fcfefc"/><rect x="49.21" y="-6.62" width="9.14" height="7.95" fill="#fcfefc"/></g>
<g transform="translate(912.1 723.3) scale(0.947 1)"><text>121</text><rect x="2.38" y="-6.62" width="9.94" height="7.95" fill="#fcfefc"/><rect x="19.74" y="-6.62" width="9.14" height="7.95" fill="#fcfefc"/><rect x="61.32" y="-6.62" width="9.94" height="7.95" fill="#fcfefc"/><rect x="78.68" y="-6.62" width="9.14" height="7.95" fill="#fcfefc"/></g>
<g transform="translate(1396.6 736.4) scale(0.947 1)"><text>121</text><rect x="2.38" y="-6.62" width="9.94" height="7.95" fill="#fcfefc"/><rect x="19.74" y="-6.62" width="9.14" height="7.95" fill="#fcfefc"/><rect x="61.32" y="-6.62" width="9.94" height="7.95" fill="#fcfefc"/><rect x="78.68" y="-6.62" width="9.14" height="7.95" fill="#fcfefc"/></g>
<g transform="translate(791.5 774.2) scale(0.947 1)"><text>114</text><rect x="2.38" y="-6.62" width="9.94" height="7.95" fill="#fcfefc"/><rect x="19.74" y="-6.62" width="9.14" height="7.95" fill="#fcfefc"/><rect x="31.85" y="-6.62" width="9.94" height="7.95" fill="#fcfefc"/><rect x="49.21" y="-6.62" width="9.14" height="7.95" fill="#fcfefc"/></g>
<g transform="translate(945.0 779.7) scale(0.947 1)"><text>115</text><rect x="2.38" y="-6.62" width="9.94" height="7.95" fill="#fcfefc"/><rect x="19.74" y="-6.62" width="9.14" height="7.95" fill="#fcfefc"/><rect x="31.85" y="-6.62" width="9.94" height="7.95" fill="#fcfefc"/><rect x="49.21" y="-6.62" width="9.14" height="7.95" fill="#fcfefc"/></g>
<g transform="translate(1440.9 808.5) scale(0.947 1)"><text>119</text><rect x="2.38" y="-6.62" width="9.94" height="7.95" fill="#fcfefc"/><rect x="19.74" y="-6.62" width="9.14" height="7.95" fill="#fcfefc"/><rect x="31.85" y="-6.62" width="9.94" height="7.95" fill="#fcfefc"/><rect x="49.21" y="-6.62" width="9.14" height="7.95" fill="#fcfefc"/></g>
<g transform="translate(504.6 840.8) scale(0.947 1)"><text>133</text><rect x="2.38" y="-6.62" width="9.94" height="7.95" fill="#fcfefc"/><rect x="19.74" y="-6.62" width="9.14" height="7.95" fill="#fcfefc"/></g>
<g transform="translate(1422.2 880.5) scale(0.947 1)"><text>118</text><rect x="2.38" y="-6.62" width="9.94" height="7.95" fill="#fcfefc"/><rect x="19.74" y="-6.62" width="9.14" height="7.95" fill="#fcfefc"/><rect x="31.85" y="-6.62" width="9.94" height="7.95" fill="#fcfefc"/><rect x="49.21" y="-6.62" width="9.14" height="7.95" fill="#fcfefc"/></g>
<g transform="translate(274.3 897.1) scale(0.947 1)"><text>129</text><rect x="2.38" y="-6.62" width="9.94" height="7.95" fill="#fcfefc"/><rect x="19.74" y="-6.62" width="9.14" height="7.95" fill="#fcfefc"/></g>
<g transform="translate(1278.2 971.3) scale(0.947 1)"><text>121</text><rect x="2.38" y="-6.62" width="9.94" height="7.95" fill="#fcfefc"/><rect x="19.74" y="-6.62" width="9.14" height="7.95" fill="#fcfefc"/><rect x="61.32" y="-6.62" width="9.94" height="7.95" fill="#fcfefc"/><rect x="78.68" y="-6.62" width="9.14" height="7.95" fill="#fcfefc"/></g>
<g transform="translate(1145.2 1032.7) scale(0.947 1)"><text>117</text><rect x="2.38" y="-6.62" width="9.94" height="7.95" fill="#fcfefc"/><rect x="19.74" y="-6.62" width="9.14" height="7.95" fill="#fcfefc"/><rect x="31.85" y="-6.62" width="9.94" height="7.95" fill="#fcfefc"/><rect x="49.21" y="-6.62" width="9.14" height="7.95" fill="#fcfefc"/></g>
<g transform="translate(327.6 1046.4) scale(0.947 1)"><text>128</text><rect x="2.38" y="-6.62" width="9.94" height="7.95" fill="#fcfefc"/><rect x="19.74" y="-6.62" width="9.14" height="7.95" fill="#fcfefc"/></g>
<g transform="translate(404.8 1165.2) scale(0.947 1)"><text>132</text><rect x="2.38" y="-6.62" width="9.94" height="7.95" fill="#fcfefc"/><rect x="19.74" y="-6.62" width="9.14" height="7.95" fill="#fcfefc"/></g>
<g transform="translate(996.4 1183.8) scale(0.947 1)"><text>133</text><rect x="2.38" y="-6.62" width="9.94" height="7.95" fill="#fcfefc"/><rect x="19.74" y="-6.62" width="9.14" height="7.95" fill="#fcfefc"/></g>
<g transform="translate(576.1 1217.4) scale(0.947 1)"><text>131</text><rect x="2.38" y="-6.62" width="9.94" height="7.95" fill="#fcfefc"/><rect x="19.74" y="-6.62" width="9.14" height="7.95" fill="#fcfefc"/><rect x="61.32" y="-6.62" width="9.94" height="7.95" fill="#fcfefc"/><rect x="78.68" y="-6.62" width="9.14" height="7.95" fill="#fcfefc"/></g>
<g transform="translate(1174.6 1211.8) scale(0.947 1)"><text>132</text><rect x="2.38" y="-6.62" width="9.94" height="7.95" fill="#fcfefc"/><rect x="19.74" y="-6.62" width="9.14" height="7.95" fill="#fcfefc"/></g>
<g transform="translate(665.7 1248.2) scale(0.947 1)"><text>130</text><rect x="2.38" y="-6.62" width="9.94" height="7.95" fill="#fcfefc"/><rect x="19.74" y="-6.62" width="9.14" height="7.95" fill="#fcfefc"/></g>
<g transform="translate(961.0 1321.6) scale(0.947 1)"><text>129</text><rect x="2.38" y="-6.62" width="9.94" height="7.95" fill="#fcfefc"/><rect x="19.74" y="-6.62" width="9.14" height="7.95" fill="#fcfefc"/></g>
<g transform="translate(297.0 1381.1) scale(0.947 1)"><text>133</text><rect x="2.38" y="-6.62" width="9.94" height="7.95" fill="#fcfefc"/><rect x="19.74" y="-6.62" width="9.14" height="7.95" fill="#fcfefc"/></g>
<g transform="translate(496.8 1401.6) scale(0.947 1)"><text>130</text><rect x="2.38" y="-6.62" width="9.94" height="7.95" fill="#fcfefc"/><rect x="19.74" y="-6.62" width="9.14" height="7.95" fill="#fcfefc"/></g>
<g transform="translate(624.6 1433.5) scale(0.947 1)"><text>131</text><rect x="2.38" y="-6.62" width="9.94" height="7.95" fill="#fcfefc"/><rect x="19.74" y="-6.62" width="9.14" height="7.95" fill="#fcfefc"/><rect x="61.32" y="-6.62" width="9.94" height="7.95" fill="#fcfefc"/><rect x="78.68" y="-6.62" width="9.14" height="7.95" fill="#fcfefc"/></g>
<g transform="translate(476.9 1480.8) scale(0.947 1)"><text>127</text><rect x="2.38" y="-6.62" width="9.94" height="7.95" fill="#fcfefc"/><rect x="19.74" y="-6.62" width="9.14" height="7.95" fill="#fcfefc"/></g>
<g transform="translate(782.1 1604.3) scale(0.947 1)"><text>133</text><rect x="2.38" y="-6.62" width="9.94" height="7.95" fill="#fcfefc"/><rect x="19.74" y="-6.62" width="9.14" height="7.95" fill="#fcfefc"/></g>
<g transform="translate(874.2 1674.7) scale(0.947 1)"><text>132</text><rect x="2.38" y="-6.62" width="9.94" height="7.95" fill="#fcfefc"/><rect x="19.74" y="-6.62" width="9.14" height="7.95" fill="#fcfefc"/></g>
</g>
<g class="logo"><text transform="translate(1626.9 1785.5) scale(1.046 1)" style="font-family:'Liberation Serif',serif;font-size:38px"><tspan fill="#4a6cc0">m</tspan><tspan fill="#3aa53a">o</tspan><tspan fill="#e86aa8">t</tspan><tspan fill="#2f9e3c">o</tspan><tspan fill="#e8541e">r</tspan><tspan fill="#f2a11c">u</tspan><tspan fill="#f3c614">f</tspan></text><text x="1755.3" y="1785" style="font-family:'Liberation Serif',serif;font-size:17px" fill="#333">.de</text><circle cx="1760.6" cy="1760.4" r="0.9" fill="#555"/></g>
</svg>
</body></html>
